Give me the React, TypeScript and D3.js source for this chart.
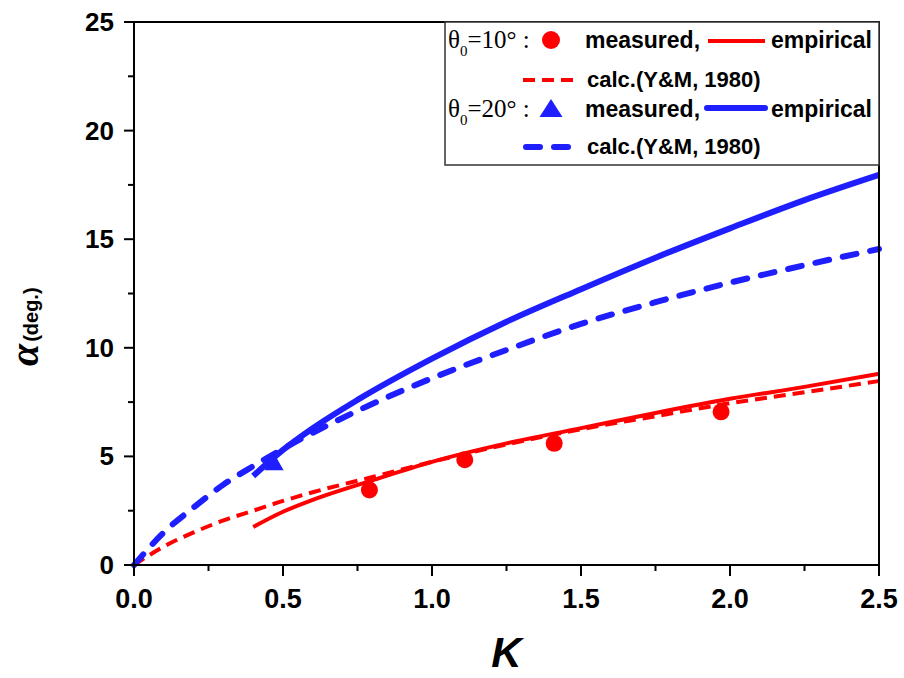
import React from "react";
import * as d3 from "d3";

const W = 904, H = 678;
const margin = { left: 134, right: 25, top: 22, bottom: 113 };

// Empirical (θ0=10°) red solid
const redEmpK = [0.4, 0.5, 0.6, 0.8, 1.0, 1.25, 1.5, 1.75, 2.0, 2.25, 2.5];
const redEmpA = [1.75, 2.45, 3.0, 3.9, 4.75, 5.6, 6.3, 7.0, 7.65, 8.2, 8.8];
// Calc Y&M (θ0=10°) red dashed
const redCalcK = [0, 0.1, 0.2, 0.3, 0.4, 0.5, 0.6, 0.8, 1.0, 1.25, 1.5, 1.75, 2.0, 2.25, 2.5];
const redCalcA = [0, 0.85, 1.5, 2.05, 2.5, 2.95, 3.35, 4.05, 4.75, 5.55, 6.25, 6.85, 7.45, 7.95, 8.47];
// Empirical (θ0=20°) blue solid
const blueEmpK = [0.4, 0.5, 0.6, 0.75, 1.0, 1.25, 1.5, 1.75, 2.0, 2.25, 2.5];
const blueEmpA = [4.1, 5.3, 6.3, 7.6, 9.5, 11.2, 12.7, 14.15, 15.5, 16.8, 17.96];
// Calc Y&M (θ0=20°) blue dashed
const blueCalcK = [0, 0.1, 0.2, 0.3, 0.4, 0.5, 0.75, 1.0, 1.25, 1.5, 1.75, 2.0, 2.25, 2.5];
const blueCalcA = [0, 1.5, 2.65, 3.7, 4.55, 5.35, 7.1, 8.6, 9.9, 11.1, 12.1, 13.0, 13.8, 14.55];
// Measured
const redMeasK = [0.79, 1.11, 1.41, 1.97];
const redMeasA = [3.45, 4.85, 5.6, 7.05];
const blueMeasK = [0.47];
const blueMeasA = [4.75];

const xTicks = [0, 0.5, 1.0, 1.5, 2.0, 2.5];
const yTicks = [0, 5, 10, 15, 20, 25];
const xMinor = [0.25, 0.75, 1.25, 1.75, 2.25];
const yMinor = [2.5, 7.5, 12.5, 17.5, 22.5];

const RED = "#ff0000";
const BLUE = "#1e1eff";
const SANS = "'Liberation Sans', Arial, sans-serif";
const SERIF = "'Liberation Serif', 'Times New Roman', serif";

export default function App() {
  const x = d3.scaleLinear().domain([0, 2.5]).range([margin.left, W - margin.right]);
  const y = d3.scaleLinear().domain([0, 25]).range([H - margin.bottom, margin.top]);
  const line = d3
    .line<[number, number]>()
    .x((d) => x(d[0]))
    .y((d) => y(d[1]))
    .curve(d3.curveMonotoneX);
  const zip = (a: number[], b: number[]) => a.map((v, i) => [v, b[i]] as [number, number]);

  const x0 = x(0), x1 = x(2.5), y0 = y(0), y1 = y(25);
  const tri = (cx: number, cy: number, w: number, h: number) =>
    `M${cx},${cy - h / 2}L${cx + w / 2},${cy + h / 2}L${cx - w / 2},${cy + h / 2}Z`;

  return (
    <svg width={W} height={H} style={{ position: "absolute", left: 0, top: 0, background: "#fff" }}>
      <rect x={0} y={0} width={W} height={H} fill="#fff" />
      {/* curves */}
      <path d={line(zip(redCalcK, redCalcA)) || ""} fill="none" stroke={RED} strokeWidth={4} strokeDasharray="12 7" />
      <path d={line(zip(redEmpK, redEmpA)) || ""} fill="none" stroke={RED} strokeWidth={4} />
      <path d={line(zip(blueCalcK, blueCalcA)) || ""} fill="none" stroke={BLUE} strokeWidth={6} strokeDasharray="14 14" strokeLinecap="round" />
      <path d={line(zip(blueEmpK, blueEmpA)) || ""} fill="none" stroke={BLUE} strokeWidth={6} />
      {redMeasK.map((k, i) => (
        <circle key={i} cx={x(k)} cy={y(redMeasA[i])} r={8.5} fill={RED} />
      ))}
      {blueMeasK.map((k, i) => (
        <path key={i} d={tri(x(k), y(blueMeasA[i]), 19, 17)} fill={BLUE} />
      ))}

      {/* frame */}
      <rect x={x0} y={y1} width={x1 - x0} height={y0 - y1} fill="none" stroke="#000" strokeWidth={2} />
      {/* x ticks */}
      {xTicks.map((t) => (
        <g key={"xt" + t}>
          <line x1={x(t)} x2={x(t)} y1={y0} y2={y0 + 11} stroke="#000" strokeWidth={2} />
          <text x={x(t)} y={608} textAnchor="middle" fontFamily={SANS} fontWeight="bold" fontSize={27}>
            {t.toFixed(1)}
          </text>
        </g>
      ))}
      {xMinor.map((t) => (
        <line key={"xm" + t} x1={x(t)} x2={x(t)} y1={y0} y2={y0 + 6} stroke="#000" strokeWidth={2} />
      ))}
      {yTicks.map((t) => (
        <g key={"yt" + t}>
          <line x1={x0 - 10} x2={x0} y1={y(t)} y2={y(t)} stroke="#000" strokeWidth={2} />
          <text x={114} y={y(t) + 9} textAnchor="end" fontFamily={SANS} fontWeight="bold" fontSize={26}>
            {t}
          </text>
        </g>
      ))}
      {yMinor.map((t) => (
        <line key={"ym" + t} x1={x0 - 6} x2={x0} y1={y(t)} y2={y(t)} stroke="#000" strokeWidth={2} />
      ))}

      {/* axis titles */}
      <text x={(x0 + x1) / 2} y={667} textAnchor="middle" fontFamily={SANS} fontWeight="bold" fontStyle="italic" fontSize={42}>
        K
      </text>
      <text transform="translate(38,366) rotate(-90)" fontFamily={SANS} fontWeight="bold">
        <tspan fontFamily={SERIF} fontStyle="italic" fontSize={40}>α</tspan>
        <tspan fontSize={20} dx={2}>(deg.)</tspan>
      </text>

      {/* legend */}
      <rect x={445} y={y1} width={x1 - 445} height={143} fill="#fff" stroke="#333" strokeWidth={1.5} />
      <text x={448} y={48} fontFamily={SERIF} fontSize={25}>
        θ<tspan fontSize={15} dy={8}>0</tspan><tspan dy={-8}>=10° :</tspan>
      </text>
      <circle cx={551} cy={40} r={9} fill={RED} />
      <text x={585} y={48} fontFamily={SANS} fontWeight="bold" fontSize={23}>measured,</text>
      <line x1={708} x2={765} y1={41} y2={41} stroke={RED} strokeWidth={4} />
      <text x={771} y={48} fontFamily={SANS} fontWeight="bold" fontSize={23}>empirical</text>

      <line x1={523} x2={577} y1={80} y2={80} stroke={RED} strokeWidth={4} strokeDasharray="12 7" />
      <text x={587} y={87} fontFamily={SANS} fontWeight="bold" fontSize={22}>calc.(Y&amp;M, 1980)</text>

      <text x={448} y={117} fontFamily={SERIF} fontSize={25}>
        θ<tspan fontSize={15} dy={8}>0</tspan><tspan dy={-8}>=20° :</tspan>
      </text>
      <path d={tri(551, 108, 23, 18)} fill={BLUE} />
      <text x={585} y={117} fontFamily={SANS} fontWeight="bold" fontSize={23}>measured,</text>
      <line x1={707} x2={765} y1={108} y2={108} stroke={BLUE} strokeWidth={6} strokeLinecap="round" />
      <text x={771} y={117} fontFamily={SANS} fontWeight="bold" fontSize={23}>empirical</text>

      <line x1={526} x2={572} y1={147} y2={147} stroke={BLUE} strokeWidth={6} strokeDasharray="14 14" strokeLinecap="round" />
      <text x={587} y={154} fontFamily={SANS} fontWeight="bold" fontSize={22}>calc.(Y&amp;M, 1980)</text>
    </svg>
  );
}
